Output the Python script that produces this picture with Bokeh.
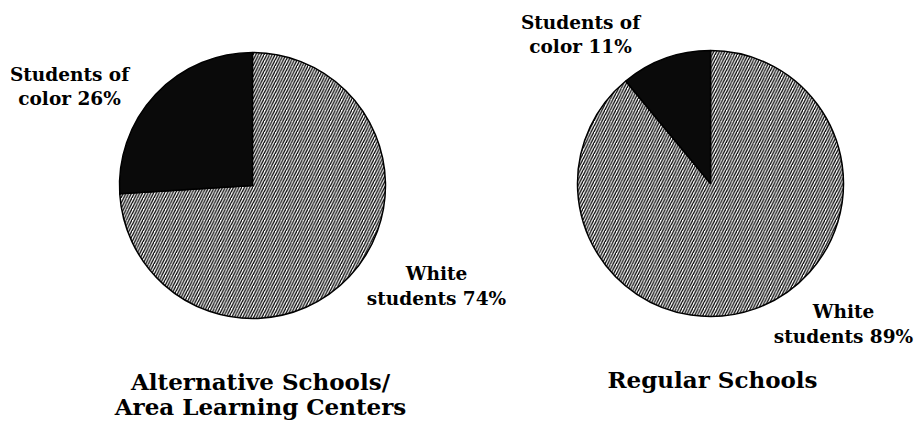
import math
from bokeh.plotting import figure
from bokeh.models import Range1d
from bokeh.core.properties import value
from bokeh.embed import file_html
from bokeh.resources import INLINE

# ---- data ----
panels = ["Alternative Schools/\nArea Learning Centers", "Regular Schools"]
color_pct = [26, 11]
white_pct = [74, 89]

# ---- layout (screen pixel positions) ----
W, H = 916, 433
pie_cx = [252, 710]
pie_cy = [185, 183]
pie_r = 133
color_lbl = [(69, 74, 98), (580, 22, 46)]
white_lbl = [(436, 273, 298), (843, 311, 336)]
title_pos = [(260, 381, 406), (712, 379, 404)]

FONT = value("DejaVu Serif")

def Y(y):  # screen y -> data y
    return 433 - y

p = figure(width=W, height=H, output_backend="svg", toolbar_location=None,
           x_range=Range1d(0, W), y_range=Range1d(433 - H, 433),
           min_border=0, outline_line_color=None, background_fill_color="white",
           border_fill_color="white")
p.axis.visible = False
p.grid.visible = False

start = math.pi / 2
for i in range(2):
    a_col = color_pct[i] / 100 * 2 * math.pi
    a_wht = white_pct[i] / 100 * 2 * math.pi
    # white students slice (hatched)
    p.wedge(x=[pie_cx[i]], y=[Y(pie_cy[i])], radius=pie_r, radius_units="screen",
            start_angle=start + a_col, end_angle=start + a_col + a_wht, direction="anticlock",
            fill_color="white", hatch_pattern="/", hatch_color="black",
            hatch_scale=5.5, hatch_weight=1.3, line_color="black", line_width=1.5)
    # students of color slice
    p.wedge(x=[pie_cx[i]], y=[Y(pie_cy[i])], radius=pie_r, radius_units="screen",
            start_angle=start, end_angle=start + a_col, direction="anticlock",
            fill_color="#0a0a0a", line_color="black", line_width=1.5)

lx, ly, lt = [], [], []
tx, ty, tt = [], [], []
for i in range(2):
    cx, y1, y2 = color_lbl[i]
    lx += [cx, cx]; ly += [Y(y1), Y(y2)]
    lt += ["Students of", f"color {color_pct[i]}%"]
    cx, y1, y2 = white_lbl[i]
    lx += [cx, cx]; ly += [Y(y1), Y(y2)]
    lt += ["White", f"students {white_pct[i]}%"]
    lines = panels[i].split("\n")
    cx, y1, y2 = title_pos[i]
    for j, line in enumerate(lines):
        tx.append(cx); ty.append(Y([y1, y2][j])); tt.append(line)

p.text(x=lx, y=ly, text=lt, text_font=FONT, text_font_style="bold",
       text_font_size="18.5px", text_align="center", text_baseline="alphabetic",
       text_color="black")
p.text(x=tx, y=ty, text=tt, text_font=FONT, text_font_style="bold",
       text_font_size="23px", text_align="center", text_baseline="alphabetic",
       text_color="black")

open("out.html", "w").write(file_html(p, INLINE))
